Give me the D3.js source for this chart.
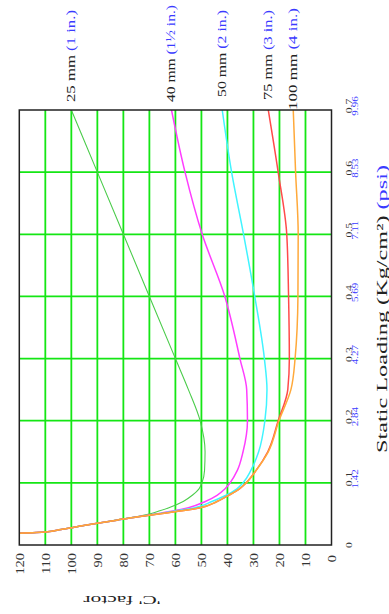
<!DOCTYPE html>
<html>
<head>
<meta charset="utf-8">
<script src="https://cdn.jsdelivr.net/npm/d3@7"></script>
<style>
  html, body { margin: 0; padding: 0; background: #fff; }
  svg { display: block; }
  text { font-family: "Liberation Serif", "DejaVu Serif", serif; }
</style>
</head>
<body>
<div id="mainchart"></div>
<script>
// Datos
// ===================
var loads = [0.019, 0.021, 0.025, 0.03, 0.035, 0.04, 0.045, 0.05, 0.055, 0.06, 0.07, 0.08, 0.09, 0.1, 0.12, 0.15, 0.2, 0.25, 0.3, 0.4, 0.5, 0.6, 0.7];

var c25  = [120, 110, 104, 97, 90, 83, 76, 70, 66, 62.5, 57, 53.5, 51, 49.8, 48.8, 48.6, 50.5, 55, 60, 70, 80, 90, 100];
var c40  = [120, 110, 104, 97, 90, 82.5, 75, 67.5, 60.5, 55, 48.5, 44, 41, 39, 36.2, 34, 32.3, 32.6, 35.2, 41, 49.7, 56.3, 61.5];
var c50  = [120, 110, 104, 97, 90, 82.5, 75, 67, 59.5, 52.5, 46, 40.5, 36.5, 34, 31, 28, 25.6, 24.8, 25.8, 29.5, 33.8, 38.4, 42];
var c75  = [120, 110, 104, 97, 90, 82.5, 75, 66.5, 57.5, 50.5, 44, 39.5, 35.5, 32.8, 29, 24.5, 20.5, 16.8, 16.2, 16.5, 17.2, 20.5, 24.3];
var c100 = [120, 110, 104, 97, 90, 82.5, 75, 66.5, 57.5, 50.5, 44, 39.5, 35.5, 32.8, 29, 24.3, 20.2, 15.6, 14, 12.9, 12.8, 13.8, 14.7];

var seriesMm   = ["25 mm", "40 mm", "50 mm", "75 mm", "100 mm"];
var seriesIn   = ["(1 in.)", "(1\u00bd in.)", "(2 in.)", "(3 in.)", "(4 in.)"];
var seriesVals = [c25, c40, c50, c75, c100];

var cTicks    = [0, 10, 20, 30, 40, 50, 60, 70, 80, 90, 100, 110, 120];
var loadTicks = [0, 0.1, 0.2, 0.3, 0.4, 0.5, 0.6, 0.7];
var loadLbl   = ["0", "0.1", "0.2", "0.3", "0.4", "0.5", "0.6", "0.7"];
var psiLbl    = ["", "1.42", "2.84", "4.27", "5.69", "7.11", "8.53", "9.96"];

// Estilo
var colors = ["#4ccc4c", "#ff3dff", "#40f4ff", "#ff4a4a", "#ffa93a"];
var blue = "#3a3aff";
var gridColor = "#14e614";

// Grafico (girado: carga hacia arriba, factor C hacia la izquierda)
var W = 389, H = 614;
var box = {left: 19.3, right: 331.5, top: 110, bottom: 545};

var svg = d3.select("#mainchart").append("svg")
    .attr("width", W)
    .attr("height", H);

var xC = d3.scaleLinear().domain([0, 120]).range([box.right, box.left]);
var yL = d3.scaleLinear().domain([0, 0.7]).range([box.bottom, box.top]);

// Rejilla
svg.append("g").selectAll("line.v")
    .data(cTicks.slice(1, -1))
    .enter().append("line")
    .attr("x1", function(d) { return xC(d); })
    .attr("x2", function(d) { return xC(d); })
    .attr("y1", box.top).attr("y2", box.bottom)
    .attr("stroke", gridColor).attr("stroke-width", 1.8);

svg.append("g").selectAll("line.h")
    .data(loadTicks.slice(1, -1))
    .enter().append("line")
    .attr("y1", function(d) { return yL(d); })
    .attr("y2", function(d) { return yL(d); })
    .attr("x1", box.left).attr("x2", box.right)
    .attr("stroke", gridColor).attr("stroke-width", 1.8);

// Curvas
svg.append("clipPath").attr("id", "clip")
  .append("rect")
    .attr("x", box.left).attr("y", box.top)
    .attr("width", box.right - box.left).attr("height", box.bottom - box.top);

var line = d3.line()
    .x(function(d) { return xC(d[1]); })
    .y(function(d) { return yL(d[0]); })
    .curve(d3.curveMonotoneY);

svg.append("g").attr("clip-path", "url(#clip)")
  .selectAll("path")
    .data(seriesVals)
    .enter().append("path")
    .attr("d", function(vals) { return line(loads.map(function(l, i) { return [l, vals[i]]; })); })
    .attr("fill", "none")
    .attr("stroke", function(d, i) { return colors[i]; })
    .attr("stroke-width", function(d, i) { return i == 0 ? 1.1 : 1.5; });

// Marco
svg.append("rect")
    .attr("x", box.left).attr("y", box.top)
    .attr("width", box.right - box.left).attr("height", box.bottom - box.top)
    .attr("fill", "none").attr("stroke", "#222").attr("stroke-width", 1.5);

// Etiquetas del factor C (abajo)
svg.append("g").selectAll("text")
    .data(cTicks)
    .enter().append("text")
    .attr("transform", function(d) { return "translate(" + (xC(d) + 4.5) + "," + (d == 0 ? 555 : 553) + ") rotate(-90) scale(1.2,1)"; })
    .attr("text-anchor", "end")
    .attr("font-size", 12)
    .attr("fill", "#333")
    .text(function(d) { return d; });

svg.append("text")
    .attr("transform", "translate(122,596) rotate(180)")
    .attr("text-anchor", "middle")
    .attr("font-size", 13)
    .attr("textLength", 77).attr("lengthAdjust", "spacingAndGlyphs")
    .attr("fill", "#222")
    .text("'C'  factor");

// Etiquetas de carga (derecha)
var lt = svg.append("g").selectAll("g")
    .data(loadTicks)
    .enter().append("g")
    .attr("transform", function(d) { return "translate(0," + (yL(d) - (d == 0 ? 0 : 4)) + ")"; });

lt.append("text")
    .attr("transform", "translate(351.5,0) rotate(-90) scale(1.3,1)")
    .attr("text-anchor", "middle")
    .attr("font-size", 9)
    .attr("fill", "#333")
    .text(function(d, i) { return loadLbl[i]; });

lt.append("text")
    .attr("transform", "translate(358,0) rotate(-90) scale(1.3,1)")
    .attr("text-anchor", "middle")
    .attr("font-size", 8.5)
    .attr("fill", blue)
    .text(function(d, i) { return psiLbl[i]; });

var title = svg.append("text")
    .attr("transform", "translate(387,309) rotate(-90)")
    .attr("text-anchor", "middle")
    .attr("font-size", 15)
    .attr("textLength", 288).attr("lengthAdjust", "spacingAndGlyphs");
title.append("tspan").attr("fill", "#222").text("Static Loading (Kg/cm\u00b2) ");
title.append("tspan").attr("fill", blue).text("(psi)");

// Etiquetas de las curvas (arriba)
var labStart = [102, 102, 97, 100, 110];
var labLen   = [92, 97, 87, 90, 102];

var lab = svg.append("g").selectAll("text")
    .data(seriesVals)
    .enter().append("text")
    .attr("transform", function(vals, i) { return "translate(" + (xC(vals[vals.length - 1]) + 4) + "," + labStart[i] + ") rotate(-90)"; })
    .attr("text-anchor", "start")
    .attr("font-size", 11.5)
    .attr("textLength", function(d, i) { return labLen[i]; })
    .attr("lengthAdjust", "spacingAndGlyphs");

lab.append("tspan").attr("fill", "#222").text(function(d, i) { return seriesMm[i] + " "; });
lab.append("tspan").attr("fill", blue).text(function(d, i) { return seriesIn[i]; });
</script>
</body>
</html>
